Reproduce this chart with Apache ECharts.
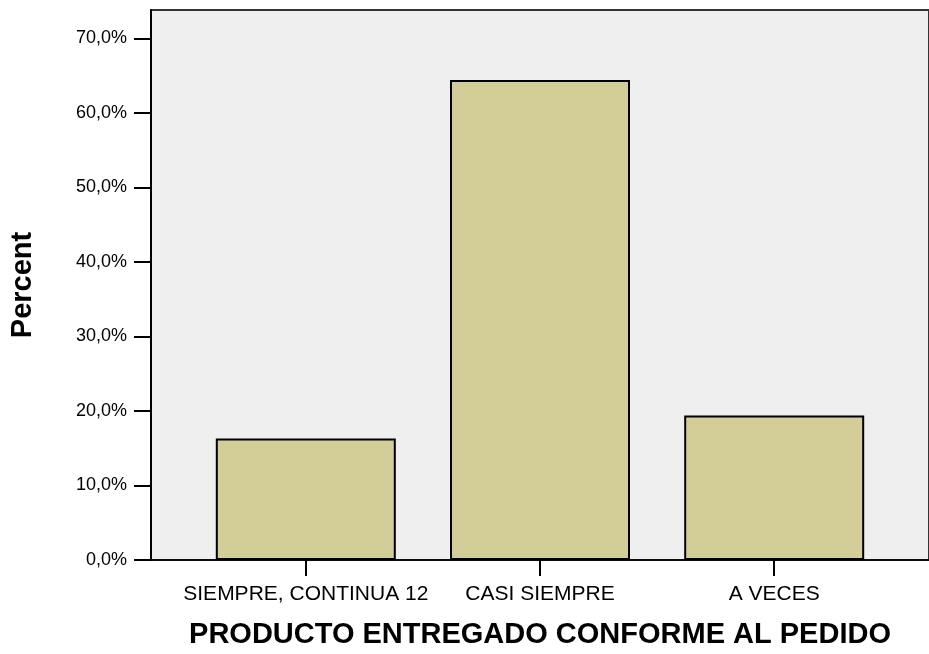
<!DOCTYPE html>
<html>
<head>
<meta charset="utf-8">
<script src="https://cdn.jsdelivr.net/npm/echarts@6/dist/echarts.min.js"></script>
<style>
html,body{margin:0;padding:0;background:#fff;}
#chart{width:929px;height:654px;}
</style>
</head>
<body>
<div id="chart"></div>
<script>
const categories = ['SIEMPRE, CONTINUA 12', 'CASI SIEMPRE', 'A VECES'];
const percentValues = [16.3, 64.4, 19.4];
const yTicks = [0, 10, 20, 30, 40, 50, 60, 70];
const yMax = 73.8;
const xAxisTitle = 'PRODUCTO ENTREGADO CONFORME AL PEDIDO';
const yAxisTitle = 'Percent';

const font = '"Liberation Sans", Arial, sans-serif';
const chart = echarts.init(document.getElementById('chart'), null, {renderer: 'canvas'});
const catIdx = categories.map((c, i) => i);

chart.setOption({
  animation: false,
  backgroundColor: '#ffffff',
  grid: {
    left: 137, top: 10, width: 799, height: 555,
    show: true, backgroundColor: '#efefef', borderColor: '#333', borderWidth: 2
  },
  xAxis: {
    type: 'value',
    min: -0.661, max: 2.661,
    splitLine: {show: false},
    axisLine: {show: true, onZero: false, lineStyle: {color: '#000', width: 1.5}},
    axisTick: {show: true, customValues: catIdx, length: 16, lineStyle: {color: '#000', width: 2}},
    axisLabel: {
      customValues: catIdx,
      formatter: v => categories[Math.round(v)] || '',
      color: '#000', fontFamily: font, fontSize: 21, margin: 24
    },
    name: xAxisTitle,
    nameLocation: 'middle',
    nameGap: 60,
    nameTextStyle: {color: '#000', fontFamily: font, fontSize: 29, fontWeight: 'bold'}
  },
  yAxis: {
    type: 'value',
    min: 0, max: yMax,
    splitLine: {show: false},
    axisLine: {show: true, onZero: false, lineStyle: {color: '#000', width: 2}},
    axisTick: {show: true, customValues: yTicks, length: 17, lineStyle: {color: '#000', width: 2}},
    axisLabel: {
      customValues: yTicks,
      formatter: v => v.toFixed(1).replace('.', ',') + '%',
      color: '#000', fontFamily: font, fontSize: 18, margin: 24
    },
    name: yAxisTitle,
    nameLocation: 'middle',
    nameGap: 114,
    nameRotate: 90,
    nameTextStyle: {color: '#000', fontFamily: font, fontSize: 29, fontWeight: 'bold'}
  },
  series: [{
    type: 'bar',
    data: categories.map((c, i) => [i, percentValues[i]]),
    barWidth: 180,
    itemStyle: {color: '#d3ce97', borderColor: '#000', borderWidth: 2}
  }]
});
</script>
</body>
</html>
